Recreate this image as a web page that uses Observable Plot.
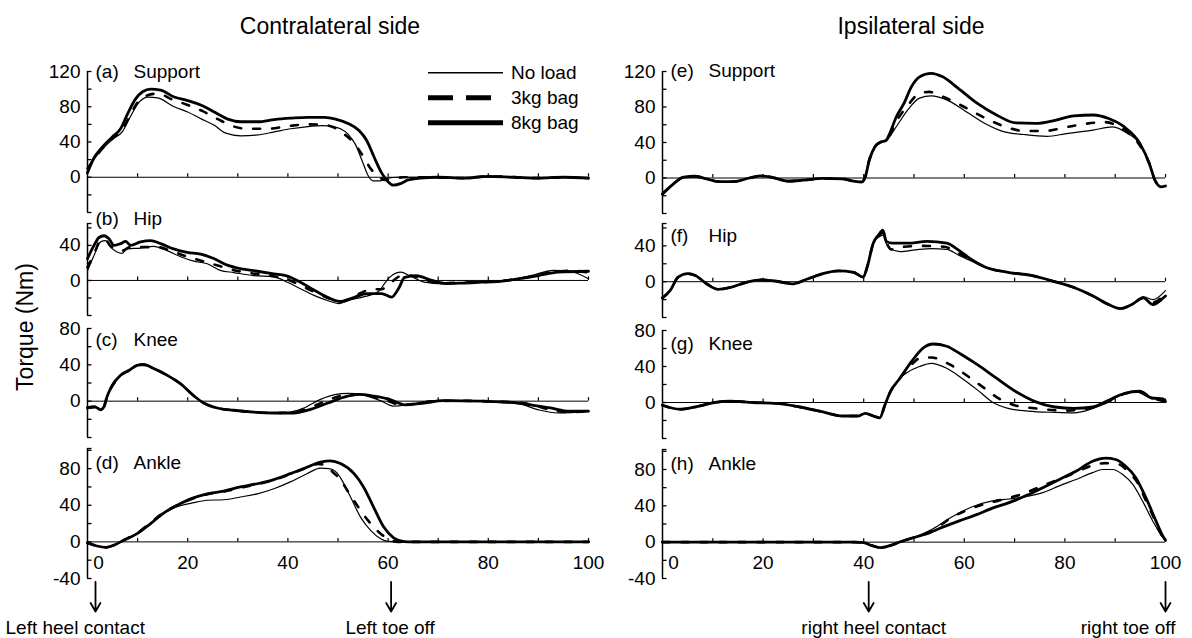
<!DOCTYPE html>
<html><head><meta charset="utf-8">
<script src="https://cdn.jsdelivr.net/npm/d3@7"></script>
<script src="https://cdn.jsdelivr.net/npm/@observablehq/plot@0.6"></script>
<style>
html,body{margin:0;padding:0;background:#fff;}
#fig{position:relative;width:1192px;height:638px;overflow:hidden;font-family:"Liberation Sans",Arial,sans-serif;color:#000;}
.lbl{position:absolute;white-space:nowrap;transform:translate(-50%,-50%);}
svg{overflow:visible;}
</style></head><body><div id="fig"></div>
<script>
// ---------------- DATA (gait cycle %, torque Nm) ----------------
const loads = ["No load", "3kg bag", "8kg bag"];
const columnTitles = ["Contralateral side", "Ipsilateral side"];
const yTitle = "Torque (Nm)";
const xTickValues = [0, 20, 40, 60, 80, 100];

// (a) Contralateral support
const aNoLoad = [[0,8],[1.5,22],[3,32],[5,43],[7,52],[8.5,68],[10,83],[12,91],[14,90],[17.3,80],[20,74],[22.6,66.5],[25.3,59],[27.6,50],[30.6,47],[34,48],[37.3,51.5],[40.6,55],[44,57.5],[47,58.5],[49,57.5],[50.5,55],[52,49],[53.5,37],[55,16],[56,2],[57,-4],[58.5,-4],[60,-1],[62,0],[70,0],[75,-1],[80,1],[86,0],[90,-1],[95,0],[100,-2]];
const a3kg = [[0,10],[1.5,22],[3,33],[5,44],[7,55],[8.5,70],[10,85],[12,93],[14,95],[17,88],[20,82],[23,75],[26,66],[29,58],[32,55],[36,55],[40,58],[44,60],[47,59.5],[49,57],[51,50],[53,40],[55,24],[56.5,10],[58,1],[59.5,-3],[61,-2],[63,0],[68,0],[75,-1],[80,1],[86,0],[90,-1],[95,0],[100,-1]];
const a8kg = [[0,5],[1.3,22],[2.6,32],[5,46],[6.6,55],[8,72],[9.6,89],[11,97],[12.6,100],[14.6,99],[17.3,91],[20,87],[22.6,82],[25.3,74],[28,66],[30.6,63],[34,63],[37.3,65.5],[40.6,67],[44,68],[47.3,68],[49.5,66],[52,61],[54.2,53],[55.7,42],[57.2,23],[58.7,5],[60,-5],[61,-9],[62.6,-7],[64,-3],[66.4,-1],[70,0],[75,-1],[80,1],[85,0],[90,-1],[95,0],[100,-1]];
// (b) Contralateral hip
const bNoLoad = [[0,11],[1.3,28.5],[2.6,44],[3.6,45.5],[4.6,38],[5.9,32.5],[6.9,31],[7.9,36],[10.6,37],[13.2,39],[15.9,34],[18.6,27],[21.2,22],[23.9,19],[26.5,11.5],[29.2,9],[33.2,5.5],[37.2,4],[39.9,-2],[42.5,-9.5],[45.2,-17],[48.5,-24],[50.2,-26.5],[51.9,-23],[54.9,-19],[58,-13],[59.5,-2],[60.3,3.5],[62.6,9.5],[64.1,6],[67.2,-2],[71,-4],[74.8,-2.5],[82.4,-1],[88.5,5.5],[93,11.5],[96.2,10.5],[100,2]];
const b3kg = [[0,15],[1.3,30],[2.5,45],[3.5,47],[4.5,40],[6,35],[7,34],[8.5,38],[11,38],[14,38],[17,33],[20,27],[23,22],[26,17],[29,12],[33,8],[37,5],[40,1],[43,-7],[46,-15],[49,-22],[51,-24],[53,-19],[55,-13],[57,-10],[58.5,-10],[60,-6],[61.5,2],[63,6],[65,5],[67.5,0],[71,-3],[75,-2.5],[80,-1.5],[85,1],[89,5],[93,10],[97,11],[100,9]];
const b8kg = [[0,25],[1.3,40],[2.3,49],[3.3,51],[4.3,47.5],[5.3,40],[6.6,42],[7.6,44.5],[8.6,40],[10.6,44],[12.6,45.5],[14.6,42],[17.2,36],[19.9,32],[22.6,30],[25.2,25],[27.9,17.5],[30.5,13.5],[33.9,10.5],[37.2,7.5],[39.9,5],[42.5,-2],[45.2,-11],[47.8,-19],[50.3,-24],[53.4,-19],[55.7,-15],[58.7,-15],[60.7,-19],[62.2,-8],[63.3,3.5],[65.6,5.5],[68.7,0],[71.7,-3.5],[74.8,-3],[78.6,-2],[82.4,-1],[86.2,2],[90,5.5],[93.9,9.5],[100,10.5]];
// (c) Contralateral knee
const cNoLoad = [[0,-7],[1.6,-6.5],[2.6,-9],[3.3,-6],[3.9,5],[4.9,16],[6.6,28],[8.3,34],[9.9,39.5],[11.2,40],[13.2,36.5],[15.9,29],[18.6,19.5],[21.2,6],[23.2,-2],[25.9,-7.5],[29.2,-10.5],[33.2,-12.5],[37.2,-13],[40,-12.5],[43,-8],[46.5,2],[49.6,7.5],[51.9,8.5],[54.9,7],[58.7,0],[61,-5.5],[64.1,-4],[68.7,0.5],[73.3,1],[77.8,0],[82.4,-1.5],[86.2,-3],[90,-9.5],[93.9,-13],[100,-11.5]];
const c3kg = [[0,-7],[1.6,-6],[2.6,-9],[3.3,-6],[3.9,5],[4.9,16.5],[6.6,28],[8.3,34],[9.9,39.5],[11.2,40],[13.2,36],[15.9,28.5],[18.6,19],[21.2,6],[23.2,-2],[25.9,-7.5],[29.2,-10],[33.2,-12],[37.2,-13],[41,-12.5],[44,-8],[47.5,0],[51,6.5],[54,7.5],[57,5],[60,0],[62.5,-4],[65.5,-3],[69,0],[74,0.5],[79,0],[84,-1],[88,-3],[92,-9],[96,-12],[100,-11]];
const c8kg = [[0,-7.5],[1.6,-6.5],[2.6,-9.5],[3.3,-6],[3.9,5],[4.9,17],[6.6,28.5],[8.3,34],[9.9,39.5],[11.2,40.5],[13.2,36],[15.9,28.5],[18.6,19],[21.2,6],[23.2,-2],[25.9,-7.5],[29.2,-10],[33.2,-12],[37.2,-13],[41.2,-13],[44.2,-9.5],[48,-2],[51.9,5.5],[54.2,7.5],[57.2,5.5],[60.3,2],[63.3,-4],[67.2,-2],[71,0.5],[78.6,0],[84,-1],[88.5,-4],[92.4,-7.5],[96.2,-11],[100,-11]];
// (d) Contralateral ankle
const dNoLoad = [[0,-1],[1.9,-4.5],[3.6,-6],[5.3,-3.5],[7.3,2],[9.9,9],[12.6,20],[15.2,31],[17.9,38.5],[20.6,42],[23.9,45.5],[27.2,46],[30.5,49],[33.9,52.5],[37.2,58],[40.5,65.5],[43.8,74.5],[46.5,80.5],[48.2,80],[49.5,77],[50.5,70],[52.5,49],[54.5,27],[56.5,12.5],[58.5,3.5],[60,0.5],[62,0],[70,0],[80,0],[90,0],[100,0]];
const d3kg = [[0,-1],[1.9,-4.5],[3.6,-6],[5.3,-3.5],[7.3,2],[9.9,9.5],[12.6,21],[15.2,32],[17.9,40],[20.6,46.5],[23.9,52],[27.2,55],[30.5,59],[33.9,63],[37.2,67.5],[40.5,74],[43.8,81],[46,85],[47.5,84],[49,76],[50.5,68],[52,55],[53.8,40],[55.9,24],[58.5,9],[60.5,2],[62,0],[70,0],[80,0],[90,0],[100,0]];
const d8kg = [[0,-1],[1.9,-4.5],[3.6,-6],[5.3,-3.5],[7.3,2],[9.9,9],[12.6,20],[15.2,31.5],[17.9,40],[20.6,47],[23.9,52.5],[27.2,55.5],[30.5,60],[33.9,63.5],[37.2,68],[40.5,74.5],[43.8,81.5],[46.5,87],[48.5,88.5],[50.5,85.5],[53.2,74.5],[55.1,60],[57.1,38],[59.1,16.5],[61.1,4.5],[62.5,1],[64,0],[70,0],[80,0],[90,0],[100,0]];
// (e) Ipsilateral support
const eShared = [[0,-18],[1.9,-8],[4.2,1],[6.5,2],[8.8,-1],[11.1,-4],[14.2,-4],[17.3,0],[19.6,2.5],[21.9,0.5],[25,-3.5],[28,-2.5],[31.9,-0.5],[35.7,-1],[38,-3.5],[39.6,-4.5],[40.3,1],[41.1,20],[42.2,35],[43.4,40.5],[44.5,42.5]];
const eNoLoad = [[46.5,58],[48.8,77],[51.1,90],[53.4,92.5],[56.5,88],[60.3,75],[64.1,61.5],[68,52],[71.8,49],[76.4,47],[80.3,50],[85.6,54],[89.5,57.5],[92.5,50],[94.9,39],[96.8,16],[97.9,-2.5],[99.1,-10],[100,-9]];
const e3kg = [[46.5,64],[48.8,82],[51,95],[53,97],[56,91],[60,80],[64,68],[68,58],[72,53],[76,53],[80,57],[84,61],[88,63],[91,57],[94.5,40],[96.8,16],[97.9,-2.5],[99.1,-10],[100,-9]];
const e8kg = [[45,48],[46.5,69],[48,84],[49.5,103],[51.1,114],[53.4,118],[55.7,114],[58.8,101],[62.6,84],[66.4,71],[70.3,62],[74.1,61.5],[78,65],[81.8,70],[85.6,71],[88.7,67],[91.8,57.5],[94.9,39],[96.8,16],[97.9,-2.5],[99.1,-10],[100,-9]];
// (f) Ipsilateral hip
const fShared = [[0,-18],[1.5,-10],[3.1,5],[5,9],[6.5,7],[8.8,-2.5],[11.1,-8.5],[13.4,-6.5],[16.5,-1],[19.6,2],[22.7,0.5],[25.7,-2.5],[28.8,3],[31.9,9],[34.9,12],[38,10.5],[39.9,5],[40.7,16.5],[41.9,43]];
const fNoLoad = [[43,50],[43.8,52],[44.5,42],[45.3,37],[47.2,33.5],[50.3,35.5],[53.4,37],[56.5,36],[58.8,30],[61.8,22],[64.1,16.5],[68.7,10.5],[73.3,7],[78,0],[81.8,-6.5],[85.6,-16],[88.7,-25.5],[91,-30],[93.3,-25],[95.6,-17],[97.5,-20],[100,-10]];
const f3kg = [[43,51],[43.8,55],[44.5,44],[45.5,36],[48,39],[52,40],[56,39],[58.8,32],[61.5,24],[64.1,16.5],[68.7,10.5],[73.3,7],[78,0],[81.8,-6.5],[85.6,-16],[88.7,-25.5],[91,-30],[93.3,-25.5],[95.6,-18],[97.5,-23],[100,-13]];
const f8kg = [[43,52.5],[43.8,57.5],[44.5,45],[45.7,43],[48.8,43],[52.6,45],[56.5,43],[58.8,35.5],[61.1,26],[64.1,16.5],[68.7,10.5],[73.3,7],[78,0],[81.8,-6.5],[85.6,-16],[88.7,-25.5],[91,-30],[93.3,-25.5],[95.6,-18],[97.5,-25.5],[99.5,-18.5],[100,-16]];
// (g) Ipsilateral knee
const gShared = [[0,-3],[3.5,-7.5],[6.5,-5],[10.4,0],[13.4,1.5],[18,0],[22.7,-1],[27.3,-5],[31.9,-10.5],[35.7,-15],[38.8,-15],[40.3,-12],[41.9,-15],[43.2,-17],[44.2,-3],[45.3,12],[47.2,27]];
const gNoLoad = [[48.8,34],[51.1,40],[53.4,43.5],[56.5,38],[59.5,27],[62.6,14],[65.7,0],[68.7,-6.5],[72.6,-9.5],[78,-11],[81.8,-11.5],[85.6,-6.5],[88.7,0.5],[91.8,10],[94.1,12],[96.4,6.5],[98.7,4.5],[100,0]];
const g3kg = [[49.5,42],[51.5,50],[53.5,50],[57.2,42],[61,28],[64.1,15.5],[67,4],[70,-3],[75,-7],[80,-9],[85,-6],[89,2],[92,10],[95,12],[97,6],[100,1]];
const g8kg = [[49.5,45.5],[51.8,60.5],[53.8,65],[56.5,62.5],[59.5,53],[62.6,42],[66.4,27],[70.3,12],[74.1,1],[78,-5],[81.8,-6.5],[85.6,-5],[88.7,2.5],[91.8,10],[94.9,12.5],[97.2,5],[99.5,4],[100,1]];
// (h) Ipsilateral ankle
const hShared = [[0,0],[10,0],[20,0],[30,0],[38,0],[40,-0.5],[41.5,-3.5],[43.3,-6],[45.7,-3],[47.3,0.5],[49,3.5]];
const hNoLoad = [[53.7,14.5],[57.6,28],[61.6,39],[65.6,45.5],[68.9,47.5],[72.2,50],[75.6,54.5],[78.9,62],[82.2,69],[85.5,76.5],[87.5,80],[89.5,80],[91.5,74.5],[93.5,63.5],[95.6,43.5],[97.6,22],[99.4,5.5],[100,2]];
const h3kg = [[53.5,12],[57.3,26.5],[62.3,39],[66.9,46],[71,52],[76.2,63.5],[81.2,74.5],[85.5,84.5],[88,87],[90.8,85.5],[92.5,78],[94.5,65],[96,47],[98,23],[99.4,6.5],[100,2]];
const h8kg = [[52.4,9],[55.7,16.5],[59,23.5],[62.3,30],[65.6,37.5],[68.9,43.5],[72.2,51],[75.6,60],[78.9,69],[82.2,78],[85.5,89],[88.1,92.5],[90.1,91],[92.1,83.5],[94.1,71],[96.1,49],[98.1,23.5],[99.4,7.5],[100,2]];

// gait events
const contraEventX = [0, 60];
const contraEventLabels = ["Left heel contact", "Left toe off"];
const ipsiEventX = [40, 100];
const ipsiEventLabels = ["right heel contact", "right toe off"];

// ---------------- LAYOUT ----------------
const FONT = "Liberation Sans, Arial, sans-serif";
const fig = document.getElementById("fig");
const lineStyle = {
  "No load": {strokeWidth: 1.2},
  "3kg bag": {strokeWidth: 2.6, strokeDasharray: "7,12"},
  "8kg bag": {strokeWidth: 2.8}
};
const columnLayout = {
  contra: {left: 0, width: 600, marginLeft: 87, marginRight: 12},
  ipsi: {left: 592, width: 600, marginLeft: 70, marginRight: 27}
};

const panels = [
  {col:"contra", letter:"(a)", name:"Support", top:71, bottom:212, domain:[-40,120], labels:[0,40,80,120], labelDy:0,
   series:[[a8kg,"8kg bag"],[a3kg,"3kg bag"],[aNoLoad,"No load"]]},
  {col:"contra", letter:"(b)", name:"Hip", top:223, bottom:315, domain:[-40,65], labels:[0,40], labelDy:-5,
   series:[[b8kg,"8kg bag"],[b3kg,"3kg bag"],[bNoLoad,"No load"]]},
  {col:"contra", letter:"(c)", name:"Knee", top:328, bottom:437, domain:[-40,80], labels:[0,40,80], labelDy:11,
   series:[[c8kg,"8kg bag"],[c3kg,"3kg bag"],[cNoLoad,"No load"]]},
  {col:"contra", letter:"(d)", name:"Ankle", top:448, bottom:578, domain:[-40,102], labels:[-40,0,40,80], labelDy:14,
   series:[[d8kg,"8kg bag"],[d3kg,"3kg bag"],[dNoLoad,"No load"]],
   events: contraEventX.map((x,i)=>({x, label: contraEventLabels[i]})),
   eventLayout:[{arrowDx:8, textDx:-82, anchor:"start"},{arrowDx:3, textDx:2, anchor:"middle"}]},
  {col:"ipsi", letter:"(e)", name:"Support", top:71, bottom:213, domain:[-40,120], labels:[0,40,80,120], labelDy:-1,
   series:[[eShared.concat(e8kg),"8kg bag"],[eShared.concat(e3kg),"3kg bag"],[eShared.concat(eNoLoad),"No load"]]},
  {col:"ipsi", letter:"(f)", name:"Hip", top:223, bottom:317, domain:[-40,65], labels:[0,40], labelDy:12,
   series:[[fShared.concat(f8kg),"8kg bag"],[fShared.concat(f3kg),"3kg bag"],[fShared.concat(fNoLoad),"No load"]]},
  {col:"ipsi", letter:"(g)", name:"Knee", top:330, bottom:438, domain:[-40,80], labels:[0,40,80], labelDy:13,
   series:[[gShared.concat(g8kg),"8kg bag"],[gShared.concat(g3kg),"3kg bag"],[gShared.concat(gNoLoad),"No load"]]},
  {col:"ipsi", letter:"(h)", name:"Ankle", top:449, bottom:578, domain:[-40,102], labels:[-40,0,40,80], labelDy:14,
   series:[[hShared.concat(h8kg),"8kg bag"],[hShared.concat(h3kg),"3kg bag"],[hShared.concat(hNoLoad),"No load"]],
   events: ipsiEventX.map((x,i)=>({x, label: ipsiEventLabels[i]})),
   eventLayout:[{arrowDx:5, textDx:10, anchor:"middle"},{arrowDx:0, textDx:10, anchor:"end"}]}
];

function makePanel(p) {
  const col = columnLayout[p.col];
  const mt = 14, mb = p.events ? 58 : 4;
  const frameH = p.bottom - p.top;
  const frameW = col.width - col.marginLeft - col.marginRight;
  const h = frameH + mt + mb;
  const upp = (p.domain[1] - p.domain[0]) / frameH; // data units per pixel
  const zeroOff = p.domain[1] / upp;
  const yMinor = d3.range(p.domain[0], p.domain[1] + 1e-9, 20);
  if (yMinor[yMinor.length - 1] !== p.domain[1]) yMinor.push(p.domain[1]);
  const marks = [
    Plot.ruleY([0], {stroke: "#000", strokeWidth: 1}),
    Plot.tickX(d3.range(10, 101, 10), {x: d => d, stroke: "#000", strokeWidth: 1.2,
      insetTop: zeroOff - 3.5, insetBottom: frameH - zeroOff}),
    Plot.ruleX([0], {stroke: "#000", strokeWidth: 1.5}),
    Plot.tickY(yMinor, {y: d => d, stroke: "#000", strokeWidth: 1.3, insetRight: frameW - 4.5}),
    Plot.axisY({ticks: p.labels, tickSize: 0, tickPadding: 7, fontSize: 19, label: null, tickFormat: d => String(d)}),
    ...p.series.map(([pairs, load]) => Plot.line(pairs, {x: d => d[0], y: d => d[1], stroke: "#000",
      curve: "monotone-x", strokeLinejoin: "round", ...lineStyle[load]})),
    Plot.text([p.letter], {frameAnchor: "top-left", textAnchor: "start", lineAnchor: "middle", dx: 8, dy: p.labelDy, fontSize: 19}),
    Plot.text([p.name], {frameAnchor: "top-left", textAnchor: "start", lineAnchor: "middle", dx: 46, dy: p.labelDy, fontSize: 19})
  ];
  if (p.events) {
    marks.push(
      Plot.axisX({ticks: xTickValues.slice(1), tickSize: 0, tickPadding: 0, fontSize: 19, dy: -23, label: null, tickFormat: d => String(d)}),
      Plot.axisX({ticks: [0], tickSize: 0, tickPadding: 0, fontSize: 19, dy: -23, dx: 11, label: null, tickFormat: d => String(d)})
    );
    p.events.forEach((e, i) => {
      const L = p.eventLayout[i];
      marks.push(
        Plot.arrow([e], {x1: "x", x2: "x", y1: p.domain[0] - 3.5 * upp, y2: p.domain[0] - 33 * upp,
          dx: L.arrowDx, stroke: "#000", strokeWidth: 1.8, headLength: 9, headAngle: 60}),
        Plot.text([e], {x: "x", text: "label", frameAnchor: "bottom", lineAnchor: "middle",
          dy: 49, dx: L.textDx, textAnchor: L.anchor, fontSize: 19})
      );
    });
  }
  const svg = Plot.plot({
    width: col.width, height: h,
    marginLeft: col.marginLeft, marginRight: col.marginRight, marginTop: mt, marginBottom: mb,
    x: {domain: [0, 100], label: null, ...(p.events ? {} : {axis: null})},
    y: {domain: p.domain, label: null},
    style: {background: "transparent", fontFamily: FONT, overflow: "visible", color: "#000"},
    marks
  });
  svg.style.position = "absolute";
  svg.style.left = col.left + "px";
  svg.style.top = (p.top - mt) + "px";
  svg.style.maxWidth = "none";
  fig.appendChild(svg);
}
panels.forEach(makePanel);

// titles
[[columnTitles[0], 330, 26], [columnTitles[1], 911, 26]].forEach(([t, x, y]) => {
  const d = document.createElement("div");
  d.className = "lbl"; d.textContent = t;
  d.style.left = x + "px"; d.style.top = y + "px"; d.style.fontSize = "23px";
  fig.appendChild(d);
});
// y title
{
  const d = document.createElement("div");
  d.className = "lbl"; d.textContent = yTitle;
  d.style.left = "25px"; d.style.top = "327px"; d.style.fontSize = "23px";
  d.style.transform = "translate(-50%,-50%) rotate(-90deg)";
  fig.appendChild(d);
}
// legend
{
  const lg = d3.create("svg").attr("width", 170).attr("height", 80)
    .style("position", "absolute").style("left", "420px").style("top", "60px").style("overflow", "visible");
  const legendStyle = {
    "No load": {w: 1.5, dash: null},
    "3kg bag": {w: 5, dash: "25,13"},
    "8kg bag": {w: 5, dash: null}
  };
  loads.forEach((ld, i) => {
    const y = 12.7 + i * 25;
    lg.append("line").attr("x1", 8).attr("x2", 83).attr("y1", y).attr("y2", y)
      .attr("stroke", "#000").attr("stroke-width", legendStyle[ld].w)
      .attr("stroke-dasharray", legendStyle[ld].dash);
    lg.append("text").attr("x", 91).attr("y", y).attr("dy", "0.35em")
      .attr("font-family", FONT).attr("font-size", 19).text(ld);
  });
  fig.appendChild(lg.node());
}
</script></body></html>
